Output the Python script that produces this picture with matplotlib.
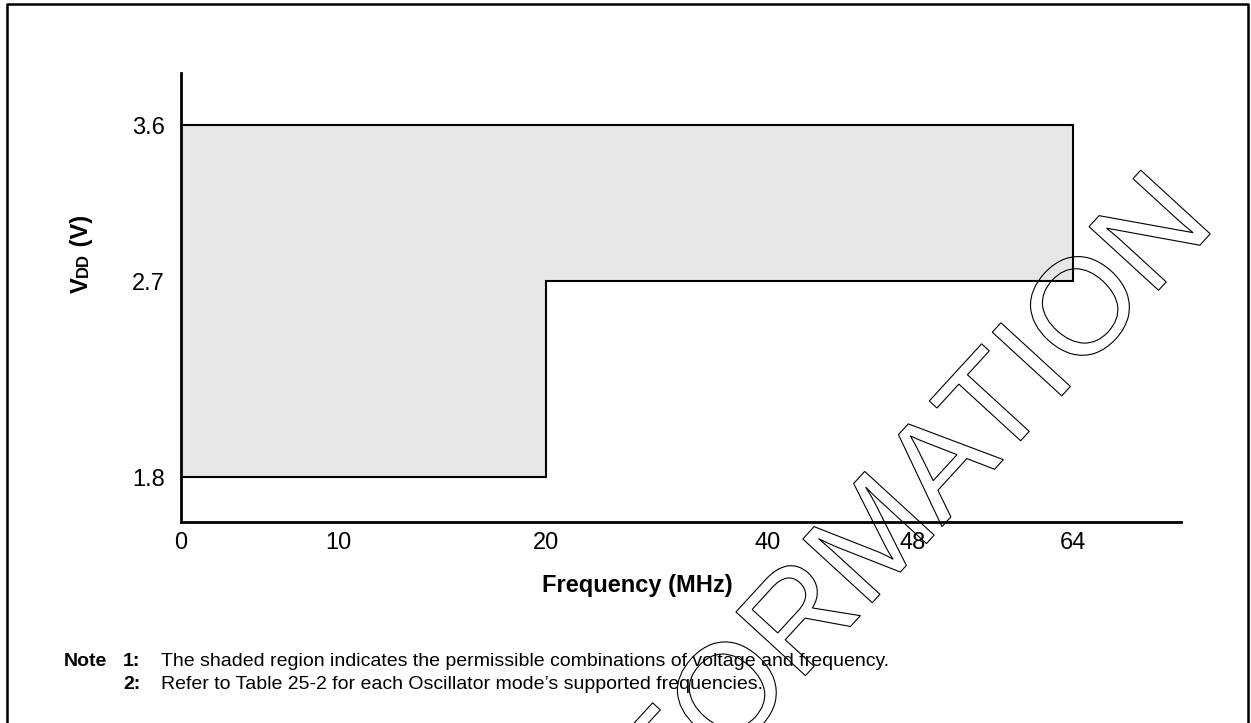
import numpy as np
import matplotlib
matplotlib.use('Agg')
import matplotlib.pyplot as plt
from matplotlib.lines import Line2D
from matplotlib.patches import PathPatch
from matplotlib.textpath import TextPath
from matplotlib.font_manager import FontProperties
from matplotlib.transforms import Affine2D, IdentityTransform

plt.rcParams['font.family'] = ['Liberation Sans', 'DejaVu Sans']

W, H = 1251, 723

# chart data
freq_ticks = [0, 10, 20, 40, 48, 64]
vdd_ticks = [1.8, 2.7, 3.6]
region_freq = [0, 20, 64]      # region edges along frequency (MHz)
region_vmin = [1.8, 2.7]       # lowest VDD for each frequency span
region_vmax = 3.6

# the datasheet axes are drawn "not to scale": where each value sits (px)
x_anchor_val = [0, 10, 20, 40, 48, 64, 80]
x_anchor_px = [181, 338, 546, 768, 913, 1073, 1233]
y_anchor_val = [1.5, 1.8, 2.7, 3.6, 4.0]
y_anchor_px = [181, 246, 442, 598, 667]


def fx(v):
    return np.interp(v, x_anchor_val, x_anchor_px)

def fx_inv(p):
    return np.interp(p, x_anchor_px, x_anchor_val)

def fy(v):
    return np.interp(v, y_anchor_val, y_anchor_px)

def fy_inv(p):
    return np.interp(p, y_anchor_px, y_anchor_val)


fig = plt.figure(figsize=(W / 100, H / 100), dpi=100)
ax = fig.add_axes([181 / W, 201 / H, 1000 / W, 449 / H])
ax.set_xscale('function', functions=(fx, fx_inv))
ax.set_yscale('function', functions=(fy, fy_inv))
ax.set_xlim(0, float(fx_inv(1181)))
ax.set_ylim(float(fy_inv(201)), float(fy_inv(650)))

f0, f1, f2 = region_freq
v0, v1 = region_vmin
ax.fill_between([f0, f1, f1, f2], [v0, v0, v1, v1], region_vmax,
                color='#e6e6e6', lw=0)
ax.plot([f0, f1, f1, f2, f2, f0], [v0, v0, v1, v1, region_vmax, region_vmax],
        color='black', lw=1.5, solid_joinstyle='miter')

for s in ['top', 'right']:
    ax.spines[s].set_visible(False)
for s in ['left', 'bottom']:
    ax.spines[s].set_linewidth(2)
ax.set_xticks(freq_ticks)
ax.set_xticklabels([str(f) for f in freq_ticks])
ax.set_yticks(vdd_ticks)
ax.set_yticklabels([str(v) for v in vdd_ticks])
ax.minorticks_off()
ax.tick_params(axis='x', length=0, pad=7, labelsize=17)
ax.tick_params(axis='y', length=0, pad=11.5, labelsize=17)

# axis titles
fig.text(637 / W, 1 - 592 / H, 'Frequency (MHz)', ha='center', va='baseline',
         fontsize=17, fontweight='bold')

renderer = fig.canvas.get_renderer()
y_pos = 723 - 293
for piece, size in [('V', 17), ('DD', 12), (' (V)', 17)]:
    t = fig.text(88 / W, y_pos / H, piece, rotation=90, rotation_mode='anchor',
                 ha='left', va='baseline', fontsize=size, fontweight='bold')
    y_pos += t.get_window_extent(renderer).height

# notes
notes = [
    ('1:', 'The shaded region indicates the permissible combinations of voltage and frequency.'),
    ('2:', "Refer to Table 25-2 for each Oscillator mode\u2019s supported frequencies."),
]
fig.text(64 / W, 1 - 666 / H, 'Note', fontsize=14, fontweight='bold', va='baseline')
for i, (num, txt) in enumerate(notes):
    yb = 1 - (666 + 23 * i) / H
    fig.text(123 / W, yb, num, fontsize=14, fontweight='bold', va='baseline')
    fig.text(161 / W, yb, txt, fontsize=14, va='baseline')

# outlined watermark
tp = TextPath((0, 0), 'INFORMATION', size=137,
              prop=FontProperties(family='Liberation Sans'))
ext = tp.get_extents()
cx, cy = (ext.x0 + ext.x1) / 2, (ext.y0 + ext.y1) / 2
tr = Affine2D().translate(-cx, -cy).rotate_deg(47.5).translate(863, H - 543)
wm = PathPatch(tr.transform_path(tp), facecolor='none', edgecolor='black',
               lw=0.8, transform=IdentityTransform(), zorder=10)
fig.add_artist(wm)

# frame around the figure
fig.add_artist(Line2D([7, 7, 1248, 1248], [-5, H - 4, H - 4, -5], color='black',
                      lw=1.8, transform=IdentityTransform()))

fig.savefig('out.png', dpi=100)
